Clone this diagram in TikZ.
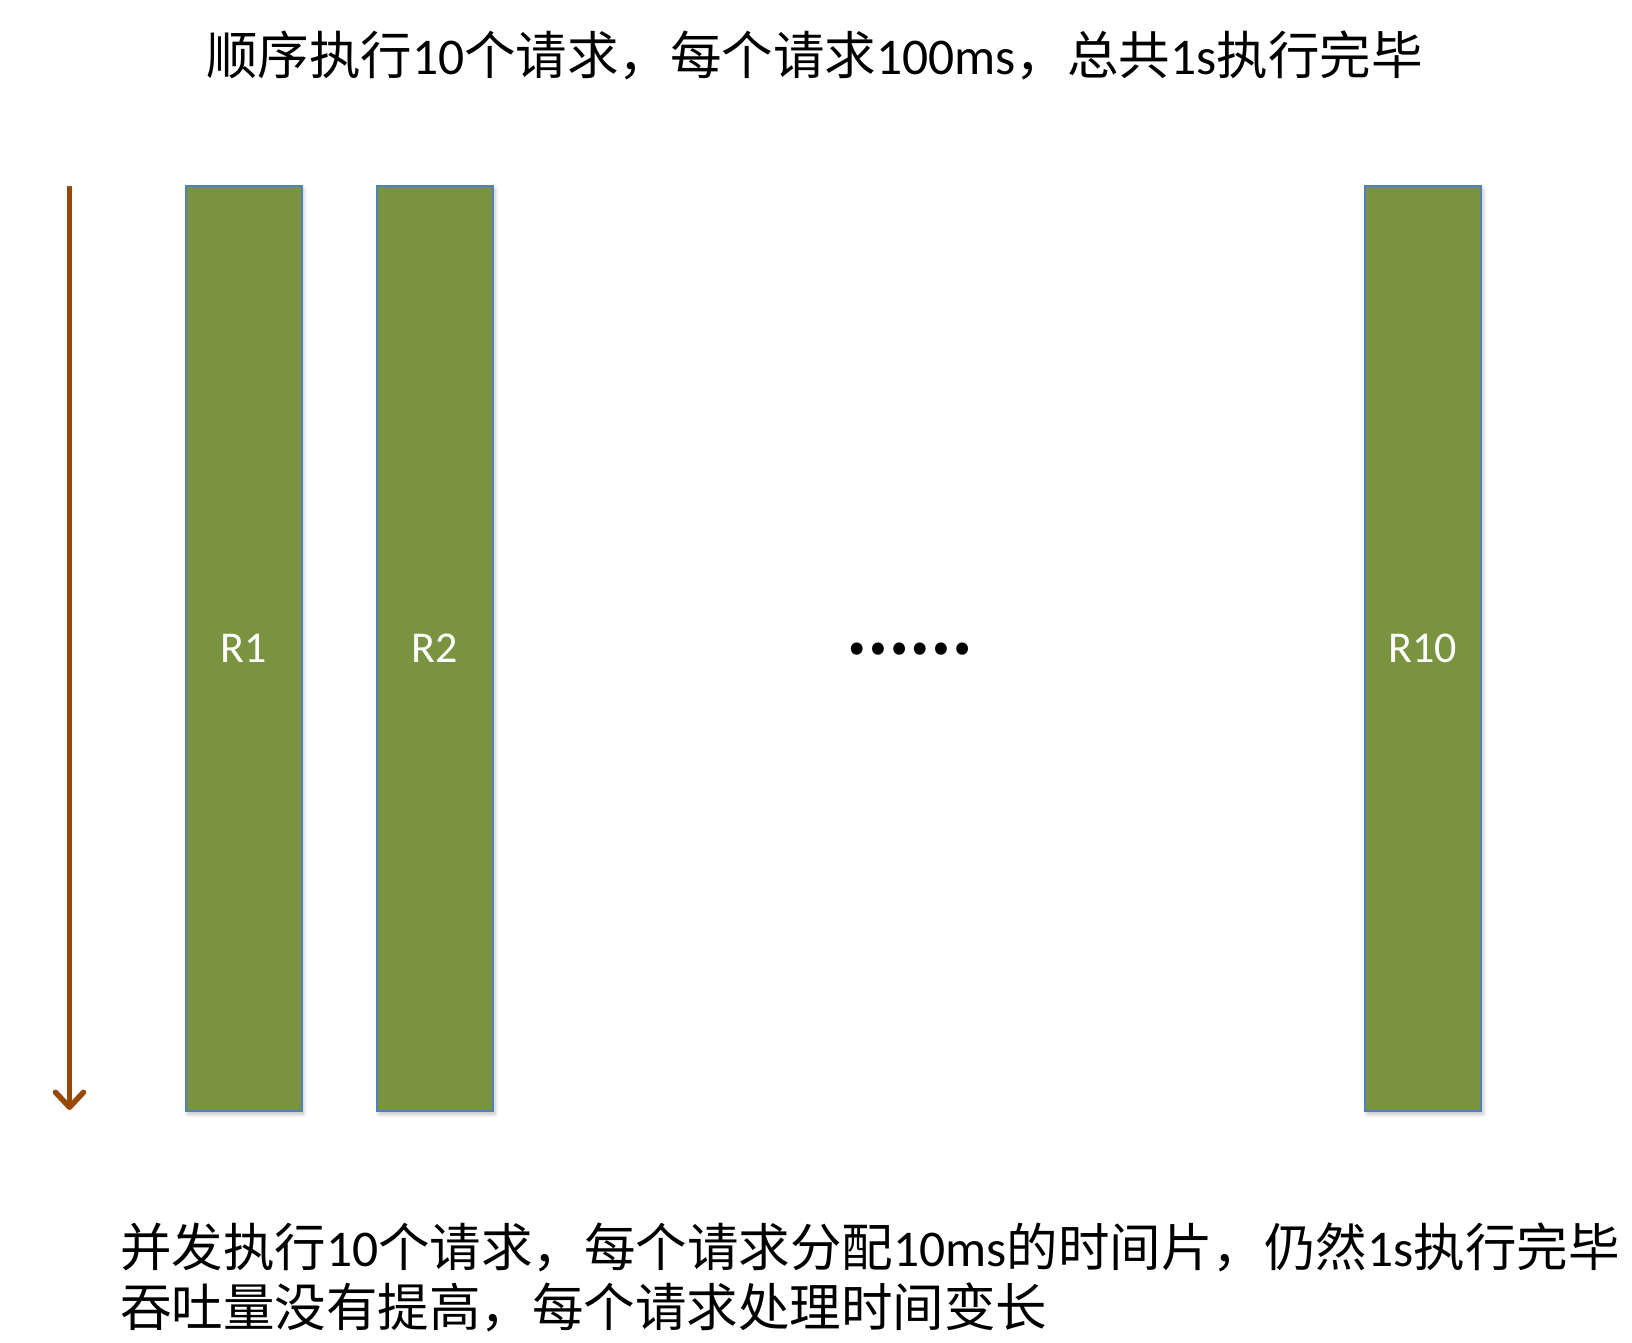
\documentclass[tikz,border=0pt]{standalone}
\usepackage{fontspec}
\setmainfont{Carlito}
\newfontfamily\cjk{Noto Sans CJK SC}
\usetikzlibrary{arrows.meta,shadows.blur}
\definecolor{barfill}{RGB}{121,147,64}
\definecolor{barline}{RGB}{79,129,189}
\definecolor{arrowc}{RGB}{152,72,7}
\tikzset{
  reqbar/.style={draw=barline, line width=2pt, fill=barfill,
    minimum width=116pt, minimum height=925pt, inner sep=0pt,
    text=white, font=\fontsize{44}{52}\selectfont,
    blur shadow={shadow xshift=2pt, shadow yshift=-3pt, shadow blur radius=4pt, shadow opacity=25}},
  caption/.style={font=\fontsize{51.5}{60}\selectfont, inner sep=0pt, anchor=base west, align=left},
}
\begin{document}
\begin{tikzpicture}[x=1pt,y=-1pt]
\useasboundingbox (0,0) rectangle (1632,1342);
\node[caption] (title) at (206,74) {{\cjk 顺序执行}10{\cjk 个请求，每个请求}100ms{\cjk ，总共}1s{\cjk 执行完毕}};
\coordinate (tstart) at (69.5,186);
\coordinate (tend) at (69.5,1110);
\draw[arrowc, line width=5.5pt, -{Straight Barb[length=15pt,width=28pt,line cap=round,line join=round]}] (tstart) -- (tend);
\node[reqbar] (r1) at (243.5,648.5) {R1};
\node[reqbar] (r2) at (435,648.5) {R2};
\node[reqbar] (r10) at (1423,648.5) {R10};
\node[inner sep=0pt, font=\cjk\bfseries\fontsize{56}{56}\selectfont] (dots) at (909,649.5) {……};
\node[caption] (note1) at (120,1266) {{\cjk 并发执行}10{\cjk 个请求，每个请求分配}10ms{\cjk 的时间片，仍然}1s{\cjk 执行完毕}};
\node[caption] (note2) at (120,1326) {{\cjk 吞吐量没有提高，每个请求处理时间变长}};
\end{tikzpicture}
\end{document}
